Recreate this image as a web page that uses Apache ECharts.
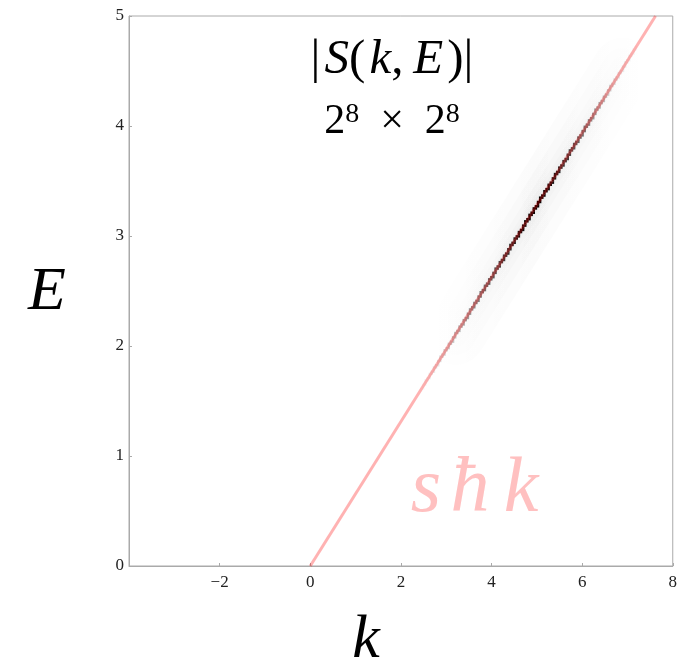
<!DOCTYPE html>
<html>
<head>
<meta charset="utf-8">
<script src="https://cdn.jsdelivr.net/npm/echarts@6/dist/echarts.min.js"></script>
<style>
  html, body { margin: 0; padding: 0; background: #fff; }
  #chart { width: 680px; height: 666px; }
</style>
</head>
<body>
<div id="chart"></div>
<script>
// Spectral function |S(k,E)| on a 2^8 x 2^8 grid, with the linear dispersion E = s·ħ·k.
const kRange = [-4, 8];
const eRange = [0, 5];
const gridN = 256;
const slope = 0.656;            // s·ħ of the dispersion line
const lineK = [0, 7.62];        // dispersion line end points
const lineE = [0, 5];
const haloK = [3.2, 6.9];       // extent of the soft background around the ridge
const haloE = [2.10, 4.53];

// Ridge intensity (0..1) per grid column, starting at column ridgeFirstCol
const ridgeFirstCol = 136;
const ridgeValues = [
  0.00, 0.01, 0.02, 0.03, 0.04,
  0.05, 0.06, 0.08, 0.09,
  0.10, 0.12, 0.14, 0.16, 0.17,
  0.19, 0.21, 0.23, 0.24,
  0.26, 0.28, 0.31, 0.33,
  0.35, 0.38, 0.40, 0.43,
  0.45, 0.47, 0.49, 0.52, 0.54,
  0.56, 0.58, 0.61, 0.63,
  0.65, 0.68, 0.70, 0.72,
  0.75, 0.77, 0.80, 0.82,
  0.85, 0.87, 0.89, 0.91, 0.92,
  0.94, 0.95, 0.97, 0.98,
  0.98, 0.99, 1.00, 1.00,
  1.00, 0.99, 0.99, 0.98, 0.97,
  0.95, 0.94, 0.92, 0.90,
  0.88, 0.85, 0.83, 0.80,
  0.78, 0.75, 0.72, 0.69,
  0.67, 0.64, 0.61, 0.58, 0.55,
  0.53, 0.50, 0.47, 0.44,
  0.41, 0.38, 0.35, 0.32,
  0.29, 0.26, 0.23, 0.20,
  0.18, 0.16, 0.14, 0.12, 0.10,
  0.09, 0.08, 0.07, 0.06,
  0.05, 0.04, 0.03, 0.02
];

const dk = (kRange[1] - kRange[0]) / gridN;
const dE = (eRange[1] - eRange[0]) / gridN;

// Each column lights the grid rows that the dispersion line crosses inside it
const cells = [];
ridgeValues.forEach(function (v, i) {
  const c = ridgeFirstCol + i;
  const k0 = kRange[0] + c * dk;
  const r0 = Math.floor(slope * k0 / dE);
  const r1 = Math.floor(slope * (k0 + dk) / dE);
  for (let r = r0; r <= r1; r++) {
    if (r >= 0 && r < gridN) cells.push([k0, eRange[0] + r * dE, v]);
  }
});

const serif = "'Liberation Serif', 'DejaVu Serif', serif";
const minus = v => (v < 0 ? '\u2212' + (-v) : String(v));

const chart = echarts.init(document.getElementById('chart'), null, { renderer: 'canvas' });

const axisCommon = {
  type: 'value',
  axisLine: { show: true, onZero: false, lineStyle: { color: '#aaaaaa', width: 1 } },
  axisTick: { show: true, inside: true, length: 3, lineStyle: { color: '#aaaaaa' } },
  splitLine: { show: false },
  axisLabel: { fontFamily: serif, fontSize: 17, color: '#222' }
};

// Stacked translucent strokes give a soft, gaussian-like haze around the ridge
const haloWidths = [4, 8, 14, 24, 40, 60];
const haloSeries = haloWidths.map(function (w, i) {
  return {
    name: 'halo' + i, type: 'line', silent: true, symbol: 'none', z: 1,
    data: haloK.map((k, j) => [k, haloE[j]]),
    lineStyle: {
      width: w,
      cap: 'round',
      color: new echarts.graphic.LinearGradient(0, 0, 1, 0, [
        { offset: 0, color: 'rgba(0,0,0,0)' },
        { offset: 0.48, color: 'rgba(0,0,0,0.014)' },
        { offset: 1, color: 'rgba(0,0,0,0)' }
      ])
    }
  };
});

chart.setOption({
  animation: false,
  backgroundColor: '#ffffff',
  grid: { left: 129, right: 4, top: 16, bottom: 100, show: true, borderColor: '#aaaaaa', borderWidth: 1, backgroundColor: 'transparent' },
  xAxis: Object.assign({}, axisCommon, {
    min: kRange[0], max: kRange[1], interval: 2,
    axisLabel: Object.assign({}, axisCommon.axisLabel, { margin: 8, showMinLabel: false, formatter: minus })
  }),
  yAxis: Object.assign({}, axisCommon, {
    min: eRange[0], max: eRange[1], interval: 1,
    axisLabel: Object.assign({}, axisCommon.axisLabel, { margin: 5 })
  }),
  series: haloSeries.concat([
    {
      name: '|S(k,E)|', type: 'custom', silent: true, z: 3,
      clip: true,
      data: cells,
      renderItem: function (params, api) {
        const k0 = api.value(0), e0 = api.value(1), v = api.value(2);
        const pA = api.coord([k0, e0 + dE]);
        const pB = api.coord([k0 + dk, e0]);
        const g = Math.round(255 * (1 - v));
        return {
          type: 'rect',
          shape: { x: pA[0], y: pA[1], width: pB[0] - pA[0] + 0.3, height: pB[1] - pA[1] + 0.3 },
          style: { fill: 'rgb(' + g + ',' + g + ',' + g + ')' }
        };
      }
    },
    {
      name: 's\u0127k', type: 'line', silent: true, symbol: 'none', z: 4,
      clip: true,
      data: lineK.map((k, i) => [k, lineE[i]]),
      lineStyle: { color: 'rgba(255,0,0,0.3)', width: 3 }
    }
  ]),
  graphic: [
    {
      type: 'text', x: 392, y: 60, z: 10,
      style: {
        text: '|\u200a{i|S}(\u200a{i|k},\u2009{i|E}\u200a)|',
        font: '49px ' + serif, fill: '#000',
        align: 'center', verticalAlign: 'middle',
        rich: { i: { fontStyle: 'italic', fontSize: 49, fontFamily: serif } }
      }
    },
    {
      type: 'text', x: 392, y: 122, z: 10,
      style: {
        text: '2{sup|8}\u2002\u00d7\u20022{sup|8}',
        font: '42px ' + serif, fill: '#000',
        align: 'center', verticalAlign: 'middle',
        rich: { sup: { fontSize: 28, fontFamily: serif, verticalAlign: 'top', lineHeight: 30 } }
      }
    },
    {
      type: 'text', x: 47, y: 293, z: 10,
      style: { text: 'E', font: 'italic 62px ' + serif, fill: '#000', align: 'center', verticalAlign: 'middle' }
    },
    {
      type: 'text', x: 366, y: 641, z: 10,
      style: { text: 'k', font: 'italic 62px ' + serif, fill: '#000', align: 'center', verticalAlign: 'middle' }
    },
    {
      type: 'text', x: 426, y: 490, z: 10,
      style: { text: 's', font: 'italic 78px ' + serif, fill: '#ffc0c0', align: 'center', verticalAlign: 'middle' }
    },
    {
      type: 'text', x: 470, y: 490, z: 10,
      style: { text: '\u0127', font: 'italic 78px ' + serif, fill: '#ffc0c0', align: 'center', verticalAlign: 'middle' }
    },
    {
      type: 'text', x: 521, y: 490, z: 10,
      style: { text: 'k', font: 'italic 78px ' + serif, fill: '#ffc0c0', align: 'center', verticalAlign: 'middle' }
    }
  ]
});
</script>
</body>
</html>
